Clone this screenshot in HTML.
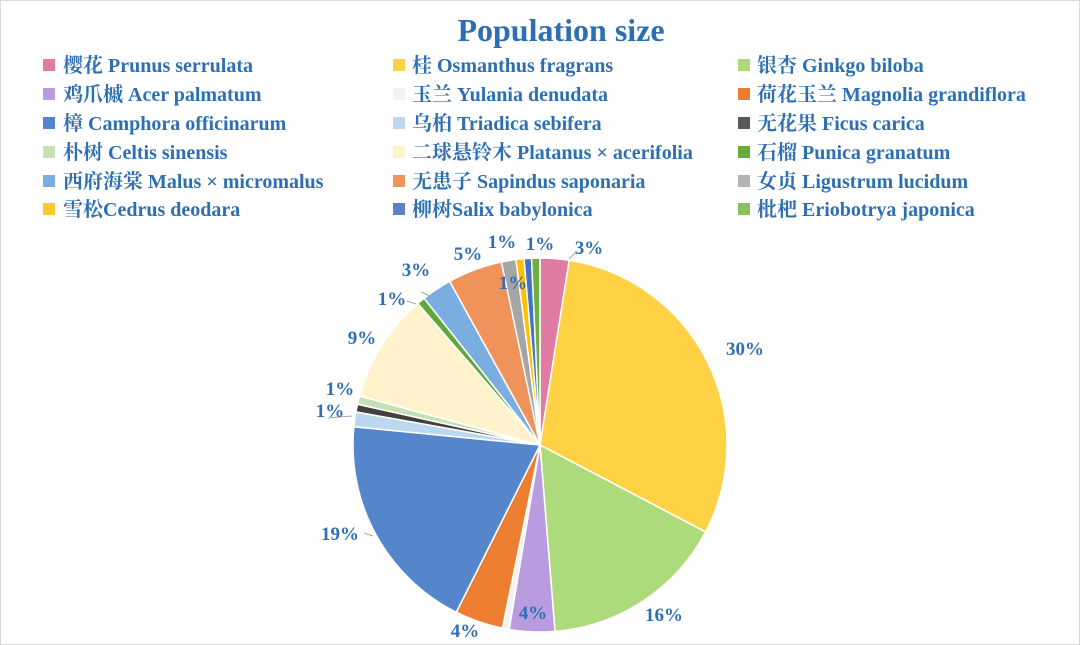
<!DOCTYPE html>
<html><head><meta charset="utf-8"><style>
body{margin:0;background:#fff}
#c{position:relative;width:1078px;height:643px;border:1px solid #d9d9d9;overflow:hidden;background:#fff}
text{font-family:"Liberation Serif","Noto Serif CJK SC","Noto Sans CJK SC",serif;font-weight:bold;fill:#2e6fb3}
</style></head><body><div id="c">
<svg width="1078" height="643" viewBox="0 0 1078 643" id="s">
<text x="560" y="40" font-size="32" text-anchor="middle">Population size</text>
<g font-size="20">
<rect x="42" y="58" width="12" height="12" fill="#e07ba3"/><text x="62" y="71">樱花 Prunus serrulata</text>
<rect x="42" y="87" width="12" height="12" fill="#b99be0"/><text x="62" y="100">鸡爪槭 Acer palmatum</text>
<rect x="42" y="116" width="12" height="12" fill="#5585ca"/><text x="62" y="129">樟 Camphora officinarum</text>
<rect x="42" y="145" width="12" height="12" fill="#c5e0b4"/><text x="62" y="158">朴树 Celtis sinensis</text>
<rect x="42" y="174" width="12" height="12" fill="#7aade0"/><text x="62" y="187">西府海棠 Malus × micromalus</text>
<rect x="42" y="202" width="12" height="12" fill="#ffc92e"/><text x="62" y="215">雪松Cedrus deodara</text>
<rect x="392" y="58" width="12" height="12" fill="#ffd245"/><text x="411" y="71">桂 Osmanthus fragrans</text>
<rect x="392" y="87" width="12" height="12" fill="#f2f2f2"/><text x="411" y="100">玉兰 Yulania denudata</text>
<rect x="392" y="116" width="12" height="12" fill="#bdd7ee"/><text x="411" y="129">乌桕 Triadica sebifera</text>
<rect x="392" y="145" width="12" height="12" fill="#fff2cc"/><text x="411" y="158">二球悬铃木 Platanus × acerifolia</text>
<rect x="392" y="174" width="12" height="12" fill="#f0935a"/><text x="411" y="187">无患子 Sapindus saponaria</text>
<rect x="392" y="202" width="12" height="12" fill="#5f80c8"/><text x="411" y="215">柳树Salix babylonica</text>
<rect x="737" y="58" width="12" height="12" fill="#addb7b"/><text x="756" y="71">银杏 Ginkgo biloba</text>
<rect x="737" y="87" width="12" height="12" fill="#ed7d31"/><text x="756" y="100">荷花玉兰 Magnolia grandiflora</text>
<rect x="737" y="116" width="12" height="12" fill="#595959"/><text x="756" y="129">无花果 Ficus carica</text>
<rect x="737" y="145" width="12" height="12" fill="#6aab3c"/><text x="756" y="158">石榴 Punica granatum</text>
<rect x="737" y="174" width="12" height="12" fill="#b4b4b4"/><text x="756" y="187">女贞 Ligustrum lucidum</text>
<rect x="737" y="202" width="12" height="12" fill="#8cc05c"/><text x="756" y="215">枇杷 Eriobotrya japonica</text>
</g>
<g id="pie"></g>
<g stroke="#a6a6a6" stroke-width="1" fill="none">
<path d="M568 258 L574 252 L580 252"/><path d="M420 291 L431 296"/><path d="M406 300 L415 303"/><path d="M327 417 L351 415"/><path d="M363 532 L372 535"/>
</g>
<g font-size="19" text-anchor="middle">
<text x="588" y="253">3%</text><text x="744" y="354">30%</text><text x="663" y="620">16%</text>
<text x="532" y="618">4%</text><text x="464" y="636">4%</text><text x="339" y="539">19%</text>
<text x="329" y="416">1%</text><text x="339" y="394">1%</text><text x="361" y="343">9%</text>
<text x="391" y="304">1%</text><text x="415" y="275">3%</text><text x="467" y="259">5%</text>
<text x="501" y="247">1%</text><text x="512" y="288">1%</text><text x="539" y="249">1%</text>
</g>
</svg></div>
<script>
var cx=539,cy=444,r=187;
var d=[[0,9,"#e07ba3"],[9,117.7,"#ffd245"],[117.7,175.4,"#addb7b"],[175.4,189.5,"#b99be0"],[189.5,191.6,"#f2f2f2"],[191.6,206.6,"#ed7d31"],[206.6,275.6,"#5585ca"],[275.6,280.2,"#bdd7ee"],[280.2,282.6,"#404040"],[282.6,285.2,"#c5e0b4"],[285.2,319.2,"#fff2cc"],[319.2,321.7,"#5fa83b"],[321.7,331.1,"#7aade0"],[331.1,348.1,"#f0935a"],[348.1,352.6,"#a5a5a5"],[352.6,355.1,"#ffc000"],[355.1,357.4,"#4472c4"],[357.4,360,"#70ad47"]];
function p(a){a=a*Math.PI/180;return (cx+r*Math.sin(a)).toFixed(2)+" "+(cy-r*Math.cos(a)).toFixed(2);}
var h="";d.forEach(function(s){h+='<path d="M'+cx+' '+cy+' L'+p(s[0])+' A'+r+' '+r+' 0 '+(s[1]-s[0]>180?1:0)+' 1 '+p(s[1])+' Z" fill="'+s[2]+'" stroke="#fff" stroke-width="1.5"/>';});
document.getElementById("pie").innerHTML=h;
</script>
</body></html>
